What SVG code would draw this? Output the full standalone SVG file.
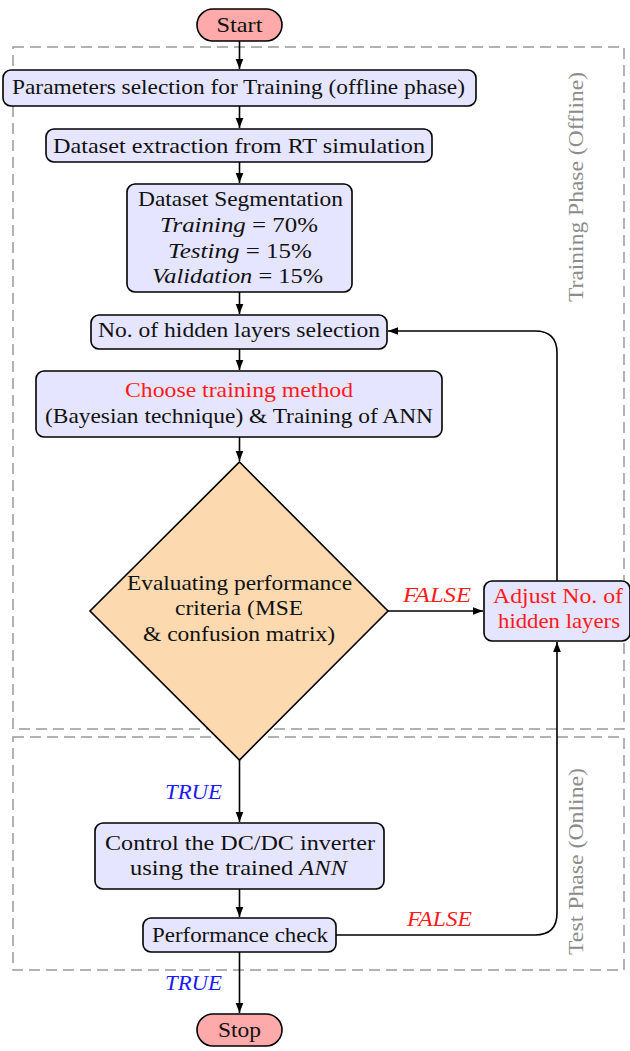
<svg xmlns="http://www.w3.org/2000/svg" width="630" height="1051" viewBox="0 0 630 1051">
<style>
text{font-family:"Liberation Serif","DejaVu Serif",serif;font-size:21px;fill:#111;text-anchor:middle}
.box{fill:#E5E5FF;stroke:#000;stroke-width:1.6}
.term{fill:#FFAAAA;stroke:#000;stroke-width:1.6}
.dia{fill:#FDD9B0;stroke:#000;stroke-width:1.6}
.phase{fill:none;stroke:#999;stroke-width:1.5;stroke-dasharray:11,6}
.ptxt{fill:#8c8c8c}
.red{fill:#FF1A1A}
.blue{fill:#1A1AFF}
.it{font-style:italic}
.c{fill:none;stroke:#000;stroke-width:1.6;marker-end:url(#ah)}
</style>
<defs>
<marker id="ah" viewBox="0 0 10 10" refX="10" refY="5" markerWidth="10" markerHeight="10" markerUnits="userSpaceOnUse" orient="auto">
<path d="M0,1.2 L10,5 L0,8.8 Z" fill="#000"/>
</marker>
</defs>
<g id="phases">
<rect class="phase" x="13" y="47" width="611" height="682"/>
<rect class="phase" x="13" y="737" width="611" height="233"/>
<text class="ptxt" transform="translate(583,187) rotate(-90)" textLength="230" lengthAdjust="spacingAndGlyphs">Training Phase (Offline)</text>
<text class="ptxt" transform="translate(583,861.5) rotate(-90)" textLength="187" lengthAdjust="spacingAndGlyphs">Test Phase (Online)</text>
</g>
<g id="connectors">
<path class="c" d="M239.5,41 V69"/>
<path class="c" d="M239.5,106 V128"/>
<path class="c" d="M239.5,162 V183"/>
<path class="c" d="M239.5,292 V314"/>
<path class="c" d="M239.5,349 V370"/>
<path class="c" d="M239.5,437 V461"/>
<path class="c" d="M388,611 H483"/>
<path class="c" d="M557,581 V353 Q557,331 535,331 H388"/>
<path class="c" d="M239.5,760 V822"/>
<path class="c" d="M239.5,889 V917"/>
<path class="c" d="M336,935 H535 Q557,935 557,913 V642"/>
<path class="c" d="M239.5,952 V1013"/>
<text class="red it" x="437" y="602" textLength="68" lengthAdjust="spacingAndGlyphs">FALSE</text>
<text class="red it" x="439.5" y="926" textLength="65" lengthAdjust="spacingAndGlyphs">FALSE</text>
<text class="blue it" x="193.5" y="799" textLength="57" lengthAdjust="spacingAndGlyphs">TRUE</text>
<text class="blue it" x="193.5" y="990" textLength="57" lengthAdjust="spacingAndGlyphs">TRUE</text>
</g>
<g id="start">
<rect class="term" x="197" y="9" width="85" height="32" rx="16"/>
<text x="239.5" y="32" textLength="46" lengthAdjust="spacingAndGlyphs">Start</text>
</g>
<g id="params">
<rect class="box" x="3" y="70" width="473" height="36" rx="8"/>
<text x="238.5" y="94" textLength="453" lengthAdjust="spacingAndGlyphs">Parameters selection for Training (offline phase)</text>
</g>
<g id="extract">
<rect class="box" x="46" y="129" width="386" height="33" rx="8"/>
<text x="239" y="153" textLength="372" lengthAdjust="spacingAndGlyphs">Dataset extraction from RT simulation</text>
</g>
<g id="segment">
<rect class="box" x="127" y="184" width="225" height="108" rx="8"/>
<text x="240.5" y="206" textLength="205" lengthAdjust="spacingAndGlyphs">Dataset Segmentation</text>
<text x="239" y="232" textLength="158" lengthAdjust="spacingAndGlyphs"><tspan class="it">Training</tspan> = 70%</text>
<text x="240" y="258" textLength="144" lengthAdjust="spacingAndGlyphs"><tspan class="it">Testing</tspan> = 15%</text>
<text x="237.5" y="283" textLength="171" lengthAdjust="spacingAndGlyphs"><tspan class="it">Validation</tspan> = 15%</text>
</g>
<g id="hidden">
<rect class="box" x="91" y="315" width="296" height="34" rx="8"/>
<text x="239" y="337" textLength="282" lengthAdjust="spacingAndGlyphs">No. of hidden layers selection</text>
</g>
<g id="train">
<rect class="box" x="36" y="371" width="406" height="66" rx="8"/>
<text class="red" x="239" y="397" textLength="228" lengthAdjust="spacingAndGlyphs">Choose training method</text>
<text x="239" y="423" textLength="388" lengthAdjust="spacingAndGlyphs">(Bayesian technique) &amp; Training of ANN</text>
</g>
<g id="evaluate">
<path class="dia" d="M239.5,462 L388,611 L239.5,760 L90,611 Z"/>
<text x="239.5" y="590" textLength="225" lengthAdjust="spacingAndGlyphs">Evaluating performance</text>
<text x="239" y="615" textLength="128" lengthAdjust="spacingAndGlyphs">criteria (MSE</text>
<text x="239" y="641" textLength="192" lengthAdjust="spacingAndGlyphs">&amp; confusion matrix)</text>
</g>
<g id="adjust">
<rect class="box" x="484" y="581" width="146" height="60" rx="8"/>
<text class="red" x="558" y="603" textLength="130" lengthAdjust="spacingAndGlyphs">Adjust No. of</text>
<text class="red" x="559" y="628" textLength="122" lengthAdjust="spacingAndGlyphs">hidden layers</text>
</g>
<g id="control">
<rect class="box" x="95" y="823" width="289" height="66" rx="8"/>
<text x="240" y="850" textLength="270" lengthAdjust="spacingAndGlyphs">Control the DC/DC inverter</text>
<text x="238.5" y="875" textLength="217" lengthAdjust="spacingAndGlyphs">using the trained <tspan class="it">ANN</tspan></text>
</g>
<g id="perf">
<rect class="box" x="143" y="918" width="193" height="34" rx="8"/>
<text x="240" y="942" textLength="176" lengthAdjust="spacingAndGlyphs">Performance check</text>
</g>
<g id="stop">
<rect class="term" x="197" y="1014" width="85" height="32" rx="16"/>
<text x="239.5" y="1037" textLength="43" lengthAdjust="spacingAndGlyphs">Stop</text>
</g>
</svg>
